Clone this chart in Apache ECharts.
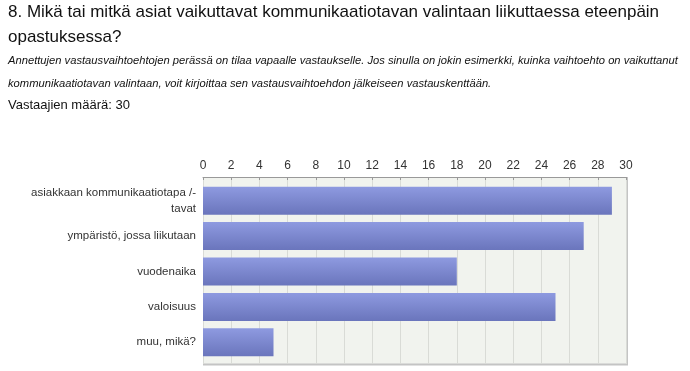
<!DOCTYPE html>
<html>
<head>
<meta charset="utf-8">
<script src="https://cdn.jsdelivr.net/npm/echarts@6/dist/echarts.min.js"></script>
<style>
  html, body { margin: 0; padding: 0; background: #fff; }
  #chart { width: 690px; height: 371px; }
</style>
</head>
<body>
<div id="chart"></div>
<script>
// vastausvaihtoehdot ja vastausmäärät
var categories = ['asiakkaan kommunikaatiotapa /-\ntavat', 'ympäristö, jossa liikutaan', 'vuodenaika', 'valoisuus', 'muu, mikä?']
var values = [29, 27, 18, 25, 5]
var axisMax = 30
var axisStep = 2

var chart = echarts.init(document.getElementById('chart'))

var option = {
  animation: false,
  title: [
    {
      text: '8. Mikä tai mitkä asiat vaikuttavat kommunikaatiotavan valintaan liikuttaessa eteenpäin\nopastuksessa?',
      left: 8, top: 0, padding: 0,
      textStyle: { fontFamily: 'Liberation Sans', fontSize: 17, fontWeight: 'normal', color: '#111', lineHeight: 25 }
    },
    {
      text: 'Annettujen vastausvaihtoehtojen perässä on tilaa vapaalle vastaukselle. Jos sinulla on jokin esimerkki, kuinka vaihtoehto on vaikuttanut\nkommunikaatiotavan valintaan, voit kirjoittaa sen vastausvaihtoehdon jälkeiseen vastauskenttään.',
      left: 8, top: 49, padding: 0,
      textStyle: { fontFamily: 'Liberation Sans', fontSize: 11.2, fontStyle: 'italic', fontWeight: 'normal', color: '#111', lineHeight: 23 }
    },
    {
      text: 'Vastaajien määrä: 30',
      left: 8, top: 97, padding: 0,
      textStyle: { fontFamily: 'Liberation Sans', fontSize: 13, fontWeight: 'normal', color: '#111', lineHeight: 16 }
    }
  ],
  grid: [
    { left: 203, top: 177, width: 423, height: 187, show: true, backgroundColor: '#f1f3ee', borderWidth: 0 },
    { left: 203, top: 183, width: 423, height: 177 }
  ],
  xAxis: [
    {
      gridIndex: 0, type: 'value', position: 'top', min: 0, max: axisMax, interval: axisStep,
      axisLine: { show: true, onZero: false, lineStyle: { color: '#999', width: 1 } },
      axisTick: { show: true, inside: true, length: 3, lineStyle: { color: '#999' } },
      axisLabel: { color: '#333', fontSize: 12, fontFamily: 'Liberation Sans', margin: 5 },
      splitLine: { show: true, lineStyle: { color: '#d9dbd6', width: 1 } }
    },
    {
      gridIndex: 1, type: 'value', min: 0, max: axisMax, interval: axisStep, show: false
    }
  ],
  yAxis: [
    {
      gridIndex: 0, type: 'value', min: 0, max: 1, show: false
    },
    {
      gridIndex: 1, type: 'category', inverse: true, data: categories,
      axisLine: { show: false }, axisTick: { show: false },
      axisLabel: { color: '#333', fontSize: 11.5, fontFamily: 'Liberation Sans', margin: 7, align: 'right', lineHeight: 16, padding: [3, 0, 0, 0] }
    }
  ],
  series: [
    {
      type: 'bar', xAxisIndex: 1, yAxisIndex: 1, data: values, barWidth: 28,
      itemStyle: {
        color: new echarts.graphic.LinearGradient(0, 0, 0, 1, [
          { offset: 0, color: '#8e9ae0' },
          { offset: 1, color: '#6a75bc' }
        ])
      }
    }
  ],
  graphic: [
    // kehys: vasen, oikea ja alareuna
    { type: 'line', shape: { x1: 203.5, y1: 177, x2: 203.5, y2: 364 }, style: { stroke: '#999', lineWidth: 1 } },
    { type: 'line', shape: { x1: 627, y1: 177, x2: 627, y2: 365 }, style: { stroke: '#c4c4c4', lineWidth: 2 } },
    { type: 'line', shape: { x1: 203, y1: 364.5, x2: 628, y2: 364.5 }, style: { stroke: '#c4c4c4', lineWidth: 2 } }
  ]
}

chart.setOption(option)
</script>
</body>
</html>
